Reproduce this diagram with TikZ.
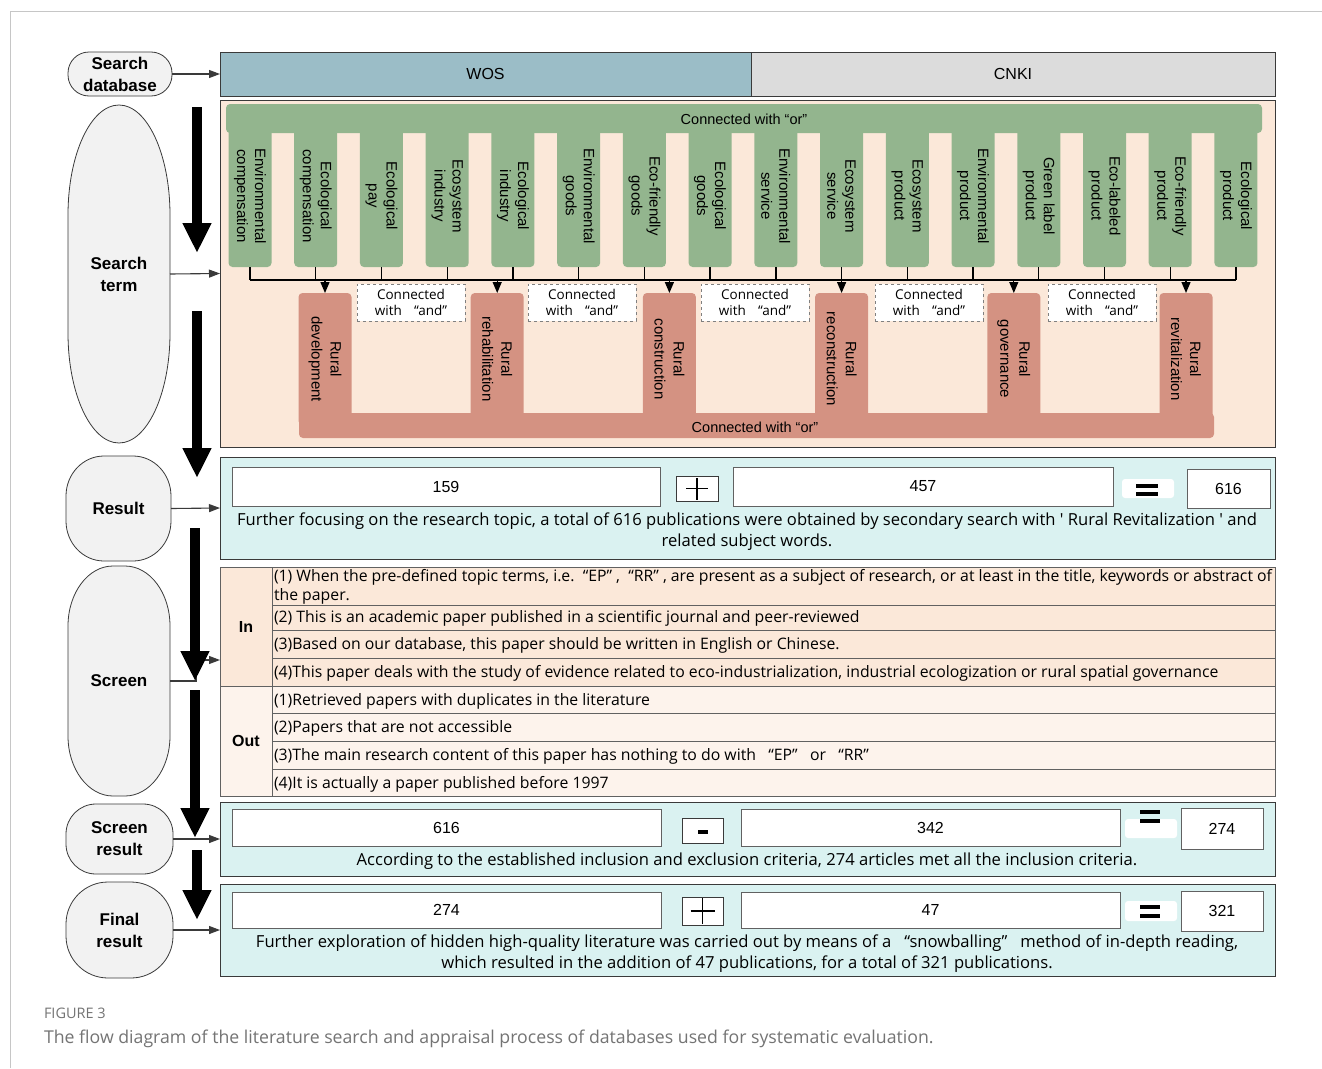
\documentclass[tikz,border=0pt]{standalone}
\usepackage{fontspec}
\setmainfont{Liberation Sans}
\newfontfamily\bodyf{Open Sans}
\usetikzlibrary{arrows.meta}
\definecolor{wosblue}{HTML}{9BBDC7}
\definecolor{cnkigray}{HTML}{DCDCDC}
\definecolor{peach}{HTML}{FBE8D9}
\definecolor{peachlt}{HTML}{FDF3EC}
\definecolor{ggreen}{HTML}{93B58E}
\definecolor{salmon}{HTML}{D49282}
\definecolor{cyanbox}{HTML}{DAF2F1}
\definecolor{lgray}{HTML}{F2F2F2}
\definecolor{edge}{HTML}{3A3A3A}
\definecolor{capgray}{HTML}{747474}
\newcommand\mkbox[7]{\node[#6, minimum width={(#4-#2)*1pt}, minimum height={(#5-#3)*1pt}] (#1) at ({(#2+#4)/2},{(#3+#5)/2}) {#7};}
\newcommand\lshape[8]{%
 \draw[lfill] (#2,#3+#7) arc[start angle=180,end angle=90,x radius=#6pt,y radius=#7pt] -- (#4-#6,#3) arc[start angle=90,end angle=0,x radius=#6pt,y radius=#7pt] -- (#4,#5-#7) arc[start angle=0,end angle=-90,x radius=#6pt,y radius=#7pt] -- (#2+#6,#5) arc[start angle=-90,end angle=-180,x radius=#6pt,y radius=#7pt] -- cycle;
 \mkbox{#1}{#2}{#3}{#4}{#5}{ltext}{#8}}
\tikzset{
 base/.style={rectangle, inner sep=0pt, outer sep=0pt},
 lfill/.style={draw=edge, line width=0.8pt, fill=lgray},
 ltext/.style={base, align=center, font=\fontsize{17}{22}\selectfont\bfseries},
 dbbox/.style={base, draw=edge, line width=0.9pt, font=\fontsize{16}{19}\selectfont},
 panel/.style={base, draw=edge, line width=0.9pt},
 gcol/.style={base, fill=ggreen, rounded corners=4pt},
 gtext/.style={base, rotate=-90, align=center, font=\fontsize{15}{18}\selectfont},
 rcol/.style={base, fill=salmon, rounded corners=4pt},
 rtext/.style={base, rotate=-90, align=center, font=\fontsize{15}{19}\selectfont},
 andbox/.style={base, draw=gray, dashed, line width=0.6pt, fill=white, align=center, font=\bodyf\fontsize{13.5}{16}\selectfont},
 numbox/.style={base, draw=edge!80, line width=0.8pt, fill=white, font=\fontsize{16}{19}\selectfont},
 opbox/.style={base, draw=edge, line width=0.8pt, fill=white},
 eqbox/.style={base, fill=white, rounded corners=3pt},
 bodytext/.style={base, align=center, font=\bodyf\fontsize{16.6}{21}\selectfont},
 rowtext/.style={base, anchor=west, font=\bodyf\fontsize{15.8}{19}\selectfont},
 incell/.style={base, draw=edge!80, line width=0.8pt, fill=peach},
 outcell/.style={base, draw=edge!80, line width=0.8pt, fill=peachlt},
 thinarr/.style={draw=edge, line width=1.1pt, -{Triangle[width=8pt,length=11pt]}},
 bigarr/.style={draw=black, line width=9.5pt, -{Triangle[width=27pt,length=30pt]}},
 smallarr/.style={draw=black, line width=1.3pt, -{Triangle[width=9pt,length=11pt]}},
 hline/.style={draw=black, line width=1.3pt},
 eqbar/.style={draw=black, line width=3.5pt},
}
\begin{document}
\begin{tikzpicture}[x=1pt,y=-1pt]
\useasboundingbox (0,0) rectangle (1322,1068);
\fill[white] (0,0) rectangle (1322,1068);
\draw[gray!45, line width=1pt] (10,1068) -- (10,11) -- (1322,11);

% left labels
\lshape{sdb}{68}{52}{172}{96}{21}{21}{Search\\database}
\lshape{sterm}{68}{105}{170}{443}{51}{110}{Search\\term}
\lshape{res}{66}{456}{171}{561}{38}{40}{Result}
\lshape{scr}{68}{566}{170}{796}{45}{60}{Screen}
\lshape{sres}{66}{804}{173}{874}{30}{30}{Screen\\result}
\lshape{fres}{66}{882}{173}{978}{42}{42}{Final\\result}

% database bar
\mkbox{wos}{220}{52}{751}{96}{dbbox, fill=wosblue}{WOS}
\mkbox{cnki}{751}{52}{1275}{96}{dbbox, fill=cnkigray}{CNKI}

% search term panel
\mkbox{stp}{220}{100}{1275}{447}{panel, fill=peach}{}
\mkbox{gbar}{226}{104}{1262}{133}{gcol}{}
\node[base, font=\fontsize{14.5}{17}\selectfont] (gbartxt) at (744,119) {Connected with “or”};
\foreach \i/\t [count=\k] in {
 0/{Environmental\\compensation}, 1/{Ecological\\compensation}, 2/{Ecological\\pay},
 3/{Ecosystem\\industry}, 4/{Ecological\\industry}, 5/{Environmental\\goods},
 6/{Eco-friendly\\goods}, 7/{Ecological\\goods}, 8/{Environmental\\service},
 9/{Ecosystem\\service}, 10/{Ecosystem\\product}, 11/{Environmental\\product},
 12/{Green label\\product}, 13/{Eco-labeled\\product}, 14/{Eco-friendly\\product},
 15/{Ecological\\product}}{
 \pgfmathsetmacro\cx{250+65.73*\i}
 \node[gcol, minimum width=43pt, minimum height=139pt] (g\k) at (\cx,197.5) {};
 \node[gtext] (gt\k) at (\cx,196) {\t};
}
\coordinate (hl) at (250,280);
\foreach \k in {1,...,16}{\draw[hline] (g\k.south) -- (g\k.south |- hl);}
\draw[hline] (g1.south |- hl) -- (g16.south |- hl);

% rural
\mkbox{rbar}{299}{413}{1214}{438}{rcol}{}
\foreach \i/\t [count=\k] in {0/{Rural\\development},1/{Rural\\rehabilitation},2/{Rural\\construction},3/{Rural\\reconstruction},4/{Rural\\governance},5/{Rural\\revitalization}}{
 \pgfmathsetmacro\cx{325+172.2*\i}
 \node[rcol, minimum width=53pt, minimum height=132pt] (r\k) at (\cx,359) {};
 \node[rtext] (rt\k) at (\cx,359) {\t};
 \draw[smallarr] (r\k.north |- hl) -- (r\k.north);
}
\node[base, font=\fontsize{14.5}{17}\selectfont] (rbartxt) at (755,427) {Connected with “or”};
\foreach \cx [count=\k] in {411,582,755,929,1102}{
 \node[andbox, minimum width=108pt, minimum height=37pt] (and\k) at (\cx,302.5) {Connected\\with\hspace{0.9em}“and”};
}

% result
\mkbox{resp}{220}{457}{1275}{559}{panel, fill=cyanbox}{}
\mkbox{a159}{232}{467}{660}{506}{numbox}{159}
\mkbox{plus1}{676}{476}{718}{501}{opbox}{}
\draw[line width=1.8pt] ([xshift=-11pt]plus1.center) -- ([xshift=11pt]plus1.center);
\draw[line width=1.8pt] ([yshift=-11pt]plus1.center) -- ([yshift=11pt]plus1.center);
\mkbox{a457}{733}{467}{1113}{506}{numbox}{457}
\mkbox{eq1}{1122}{479}{1174}{498}{eqbox}{}
\draw[eqbar] (1136,486) -- (1158,486);
\draw[eqbar] (1136,494) -- (1158,494);
\mkbox{a616}{1187}{469}{1270}{508}{numbox}{616}
\node[bodytext] (restxt) at (747,532) {Further focusing on the research topic, a total of 616 publications were obtained by secondary search with ' Rural Revitalization ' and\\related subject words.};

% screen table
\mkbox{inlab}{220}{567}{272}{686}{incell, font=\fontsize{16}{19}\selectfont\bfseries}{In}
\mkbox{outlab}{220}{686}{272}{796}{outcell, font=\fontsize{16}{19}\selectfont\bfseries}{Out}
\mkbox{in1}{272}{567}{1275}{605}{incell}{}
\mkbox{in2}{272}{605}{1275}{630}{incell}{}
\mkbox{in3}{272}{630}{1275}{658}{incell}{}
\mkbox{in4}{272}{658}{1275}{686}{incell}{}
\mkbox{out1}{272}{686}{1275}{713}{outcell}{}
\mkbox{out2}{272}{713}{1275}{741}{outcell}{}
\mkbox{out3}{272}{741}{1275}{769}{outcell}{}
\mkbox{out4}{272}{769}{1275}{796}{outcell}{}
\node[rowtext] (t11) at (274,577.5) {(1) When the pre-defined topic terms, i.e.\ \ “EP”\ ,\ \ “RR”\ , are present as a subject of research, or at least in the title, keywords or abstract of};
\node[rowtext] (t12) at (274,596.5) {the paper.};
\node[rowtext] (t2) at (274,618.5) {(2) This is an academic paper published in a scientific journal and peer-reviewed};
\node[rowtext] (t3) at (274,645.5) {(3)Based on our database, this paper should be written in English or Chinese.};
\node[rowtext] (t4) at (274,673.5) {(4)This paper deals with the study of evidence related to eco-industrialization, industrial ecologization or rural spatial governance};
\node[rowtext] (o1) at (274,701.5) {(1)Retrieved papers with duplicates in the literature};
\node[rowtext] (o2) at (274,728.5) {(2)Papers that are not accessible};
\node[rowtext] (o3) at (274,756.5) {(3)The main research content of this paper has nothing to do with\ \ \ “EP”\ \ \ or\ \ \ “RR”};
\node[rowtext] (o4) at (274,784.5) {(4)It is actually a paper published before 1997};

% screen result
\mkbox{srp}{220}{802}{1275}{876}{panel, fill=cyanbox}{}
\mkbox{b616}{232}{809}{661}{846}{numbox}{616}
\mkbox{minus}{682}{818}{723}{843}{opbox}{}
\draw[line width=4pt] (698,832) -- (708,832);
\mkbox{b342}{741}{809}{1120}{846}{numbox}{342}
\mkbox{eq2}{1125}{819}{1177}{838}{eqbox}{}
\draw[eqbar] (1140,812) -- (1160,812);
\draw[eqbar] (1140,821) -- (1160,821);
\mkbox{b274}{1181}{808}{1263}{849}{numbox}{274}
\node[bodytext] (srtxt) at (747,861) {According to the established inclusion and exclusion criteria, 274 articles met all the inclusion criteria.};

% final result
\mkbox{frp}{220}{884}{1275}{976}{panel, fill=cyanbox}{}
\mkbox{c274}{232}{892}{661}{928}{numbox}{274}
\mkbox{plus2}{682}{897}{723}{925}{opbox}{}
\draw[line width=1.8pt] ([xshift=-12pt]plus2.center) -- ([xshift=12pt]plus2.center);
\draw[line width=1.8pt] ([yshift=-13pt]plus2.center) -- ([yshift=13pt]plus2.center);
\mkbox{c47}{741}{892}{1120}{928}{numbox}{47}
\mkbox{eq3}{1125}{901}{1177}{921}{eqbox}{}
\draw[eqbar] (1140,907) -- (1160,907);
\draw[eqbar] (1140,916) -- (1160,916);
\mkbox{c321}{1181}{891}{1263}{931}{numbox}{321}
\node[bodytext] (frtxt) at (747,953.5) {Further exploration of hidden high-quality literature was carried out by means of a\ \ \ “snowballing”\ \ \ method of in-depth reading,\\which resulted in the addition of 47 publications, for a total of 321 publications.};

% thin arrows
\draw[thinarr] (sdb.east) -- (wos.west);
\draw[thinarr] (sterm.east) -- (stp.west);
\draw[thinarr] (res.east) -- (resp.west);
\coordinate (sc1) at (196,660);
\draw[thinarr] (scr.east) -| (sc1) -- (sc1 -| inlab.west);
\draw[thinarr] (sres.east) -- (srp.west);
\draw[thinarr] (fres.east) -- (frp.west);

% big arrows
\coordinate (ba1s) at (197,107); \coordinate (ba1e) at (197,253);
\coordinate (ba2s) at (197,311); \coordinate (ba2e) at (197,478);
\coordinate (ba3s) at (195,528); \coordinate (ba3e) at (195,681);
\coordinate (ba4s) at (195,690); \coordinate (ba4e) at (195,838);
\coordinate (ba5s) at (197,850); \coordinate (ba5e) at (197,920);
\foreach \k in {1,...,5}{\draw[bigarr] (ba\k s) -- (ba\k e);}

% caption
\node[base, anchor=west, text=capgray, font=\bodyf\fontsize{14.5}{17}\selectfont] (fig) at (44,1013) {FIGURE 3};
\node[base, anchor=west, text=capgray, font=\bodyf\fontsize{17.7}{21}\selectfont] (cap) at (44,1039) {The flow diagram of the literature search and appraisal process of databases used for systematic evaluation.};
\end{tikzpicture}
\end{document}
